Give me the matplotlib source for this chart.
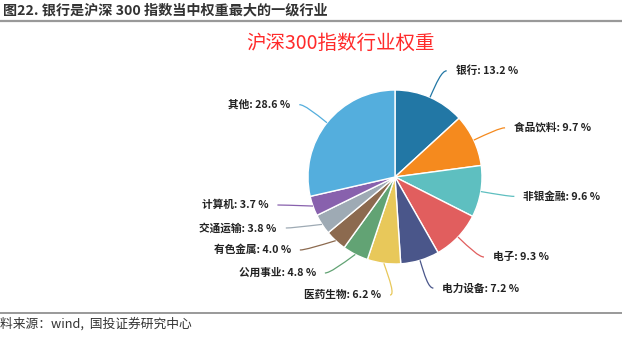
import numpy as np
import matplotlib
matplotlib.use('Agg')
import matplotlib.pyplot as plt
from matplotlib.path import Path
from matplotlib.patches import PathPatch

plt.rcParams['font.family'] = ['Noto Sans CJK SC', 'DejaVu Sans']

# data
industries = ['银行', '食品饮料', '非银金融', '电子', '电力设备', '医药生物',
              '公用事业', '有色金属', '交通运输', '计算机', '其他']
weights = [13.2, 9.7, 9.6, 9.3, 7.2, 6.2, 4.8, 4.0, 3.8, 3.7, 28.6]
colors = ['#2277a5', '#f58a1e', '#5ebfc0', '#e15e5e', '#4a568a', '#e8c85a',
          '#62a374', '#8c6a4f', '#9eaab4', '#8861ad', '#54aedd']

# layout, in pixels (y measured from the top of the picture)
W, H = 622, 337
cx, cy, r = 395, 177, 87
r_elbow = 116
moved_labels = {'计算机': 205, '交通运输': 228, '有色金属': 250,
                '公用事业': 273, '医药生物': 295}

fig = plt.figure(figsize=(W / 100, H / 100), dpi=100)
ax = fig.add_axes([0, 0, 1, 1])

wedges, _ = ax.pie(weights, colors=colors, startangle=90, counterclock=False,
                   center=(cx, H - cy), radius=r,
                   wedgeprops=dict(edgecolor='white', linewidth=1.0))

total = sum(weights)
cum = 0
for name, w, col in zip(industries, weights, colors):
    mid = 90 - (cum + w / 2) / total * 360
    cum += w
    a = np.radians(mid)
    ca, sa = np.cos(a), np.sin(a)
    side = 1 if ca >= 0 else -1
    p0 = np.array([cx + r * ca, H - cy + r * sa])
    if name in moved_labels:
        ly = H - moved_labels[name]
        dy = ly - (H - cy)
        ex = cx + side * np.sqrt(max(r_elbow ** 2 - dy ** 2, 0))
        elbow = np.array([ex, ly])
    else:
        elbow = np.array([cx + r_elbow * ca, H - cy + r_elbow * sa])
        ly = elbow[1]
    end = np.array([elbow[0] + side * 5, ly])
    c1 = p0 + 0.55 * (elbow - p0)
    path = Path([p0, c1, elbow, end],
                [Path.MOVETO, Path.CURVE4, Path.CURVE4, Path.CURVE4])
    ax.add_patch(PathPatch(path, facecolor='none', edgecolor=col, lw=0.9))
    ax.text(end[0] + side * 9, ly, f'{name}: {w:.1f} %',
            ha='left' if side > 0 else 'right', va='center',
            fontsize=7.7, fontweight='bold', color='#222222')

ax.set_xlim(0, W)
ax.set_ylim(0, H)
ax.set_aspect('equal')
ax.axis('off')

# headline and rules
ax.text(3, H - 10, '图22. 银行是沪深 300 指数当中权重最大的一级行业',
        ha='left', va='center', fontsize=10.2, fontweight='bold', color='#333333')
ax.plot([0, W], [H - 21, H - 21], color='#999999', lw=1.6)
ax.text(340, H - 43, '沪深300指数行业权重', ha='center', va='center',
        fontsize=14, color='#ff2a2a')
ax.plot([0, W], [H - 313, H - 313], color='#999999', lw=1.4)
ax.text(0, H - 324, '料来源：wind,  国投证券研究中心', ha='left', va='center',
        fontsize=9.2, color='#333333')

fig.savefig('out.png', dpi=100)
